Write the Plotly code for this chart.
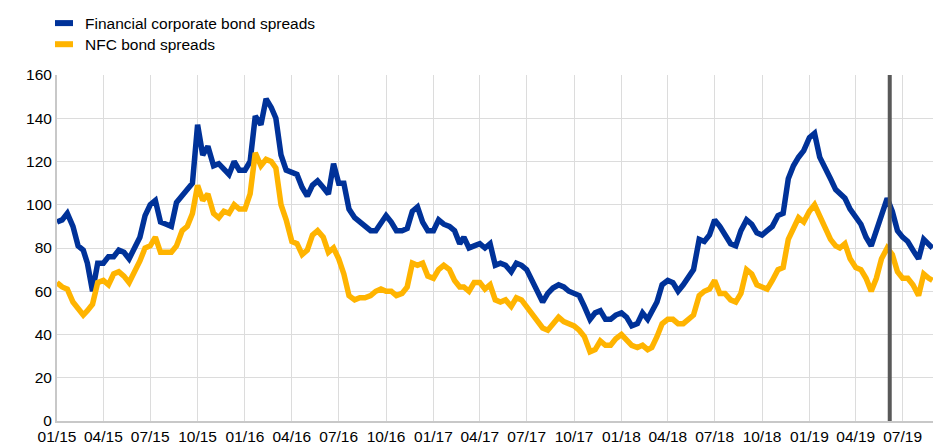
import plotly.graph_objects as go

# ---- data ----
months = ["2015-01", "2015-02", "2015-03", "2015-04", "2015-05", "2015-06", "2015-07", "2015-08",
          "2015-09", "2015-10", "2015-11", "2015-12", "2016-01", "2016-02", "2016-03", "2016-04",
          "2016-05", "2016-06", "2016-07", "2016-08", "2016-09", "2016-10", "2016-11", "2016-12",
          "2017-01", "2017-02", "2017-03", "2017-04", "2017-05", "2017-06", "2017-07", "2017-08",
          "2017-09", "2017-10", "2017-11", "2017-12", "2018-01", "2018-02", "2018-03", "2018-04",
          "2018-05", "2018-06", "2018-07", "2018-08", "2018-09", "2018-10", "2018-11", "2018-12",
          "2019-01", "2019-02", "2019-03", "2019-04", "2019-05", "2019-06", "2019-07", "2019-08"]
days = ["01", "11", "21"]
dates = [f"{m}-{d}" for m in months for d in days] + ["2019-08-28"]

financial_spreads = [
    92, 93, 96,    90, 81, 79,    73, 60, 73,    73, 76, 76,    79, 78, 75,    80, 85, 95,
    100, 102, 92,  91, 90, 101,   104, 107, 110, 137, 123, 127,  118, 119, 116,  114, 120, 116,
    116, 120, 141, 137, 149, 145, 140, 123, 116, 115, 114, 108,  104, 109, 111,  108, 105, 119,
    110, 110, 98,  94, 92, 90,    88, 88, 91,    95, 92, 88,    88, 89, 97,    99, 92, 88,
    88, 93, 91,    90, 88, 82,    85, 80, 81,    82, 80, 82,    72, 73, 72,    69, 73, 72,
    70, 65, 60,    55, 59, 61.5,  63, 62, 60,    59, 58, 53,    47, 50, 51,    47, 47, 49,
    50, 48, 44,    45, 50, 47,    51, 55, 63,    65, 64, 60,    63, 66, 70,    84, 83, 86,
    93, 90, 86,    82, 81, 88,    93, 91, 87,    86, 88, 90,    95, 96, 112,   118, 122, 125,
    131, 133, 122, 116, 112, 107, 105, 103, 98,  94, 91, 85,    81, 88, 96,    103, 97, 88,
    85, 83, 79,    75, 84, 82,    80,
]

nfc_spreads = [
    64, 62, 61,    55, 52, 49,    51, 54, 64,    65, 63, 68,    69, 67, 64,    69, 74, 80,
    81, 85, 78,    78, 78, 81,    88, 90, 96,    109, 102, 105, 96, 94, 97,    96, 100, 98,
    98, 105, 124,  118, 121, 120, 117, 100, 93,  83, 82, 77,    79, 86, 88,    85, 78, 80,
    75, 68, 58,    56, 57, 57,    58, 60, 61,    60, 60, 58,    59, 62, 73,    72, 73, 67,
    66, 70, 72,    70, 65, 62,    62, 60, 64,    64, 61, 63,    56, 55, 56,    53, 57, 56,
    53, 49, 46,    43, 42, 45,    48, 46, 45,    44, 42, 39,    32, 33, 37,    35, 35, 38,
    40, 37, 35,    34, 35, 33,    34, 39, 45,    47, 47, 45,    45, 47, 49,    58, 60, 61,
    65, 59, 59,    56, 55, 59,    70, 68, 63,    62, 61, 65,    70, 71, 84,    89, 94, 92,
    97, 100, 95,   90, 84, 81,    80, 82, 75,    71, 70, 66,    60, 66, 75,    80, 77, 69,
    66, 66, 63,    58, 68, 66,    65,
]

series_names = ["Financial corporate bond spreads", "NFC bond spreads"]
series_colors = ["#003299", "#FFB400"]
event_date = "2019-06-06"

y_ticks = [0, 20, 40, 60, 80, 100, 120, 140, 160]

# ---- figure ----
fig = go.Figure()
for name, vals, col in zip(series_names, [financial_spreads, nfc_spreads], series_colors):
    fig.add_trace(go.Scatter(x=dates, y=vals, mode="lines", name=name,
                             line=dict(color=col, width=5.5), showlegend=False))

font_family = "Liberation Sans, Arial, sans-serif"

fig.update_layout(
    width=933, height=445,
    margin=dict(l=57, r=0, t=75, b=24),
    paper_bgcolor="white", plot_bgcolor="white",
    font=dict(family=font_family, size=15.5, color="#000000"),
    xaxis=dict(type="date", range=["2015-01-01", "2019-08-29"],
               tick0="2015-01-01", dtick="M3", tickformat="%m/%y",
               showgrid=True, gridcolor="#dcdcdc", gridwidth=1,
               showline=True, linecolor="#c8c8c8", linewidth=2,
               ticks="", zeroline=False, tickfont=dict(size=15.5)),
    yaxis=dict(range=[0, 160], tickvals=y_ticks,
               showgrid=True, gridcolor="#dcdcdc", gridwidth=1,
               showline=True, linecolor="#c8c8c8", linewidth=2,
               ticks="", zeroline=False, tickfont=dict(size=15.5)),
)

# vertical event line
fig.add_shape(type="line", xref="x", yref="paper", x0=event_date, x1=event_date,
              y0=0, y1=1, line=dict(color="#595959", width=4))

# manual legend (short swatches like the reference)
legend_rows = [1.150, 1.089]
for name, col, yy in zip(series_names, series_colors, legend_rows):
    fig.add_shape(type="line", xref="paper", yref="paper", x0=-0.0023, x1=0.0183,
                  y0=yy, y1=yy, line=dict(color=col, width=6))
    fig.add_annotation(xref="paper", yref="paper", x=0.0297, y=yy, text=name,
                       showarrow=False, xanchor="left", yanchor="middle",
                       font=dict(family=font_family, size=15.5, color="#000000"))

fig.write_html("out.html",
               config={"displayModeBar": False},
               post_script="document.body.style.margin='0';document.body.style.overflow='hidden';")
